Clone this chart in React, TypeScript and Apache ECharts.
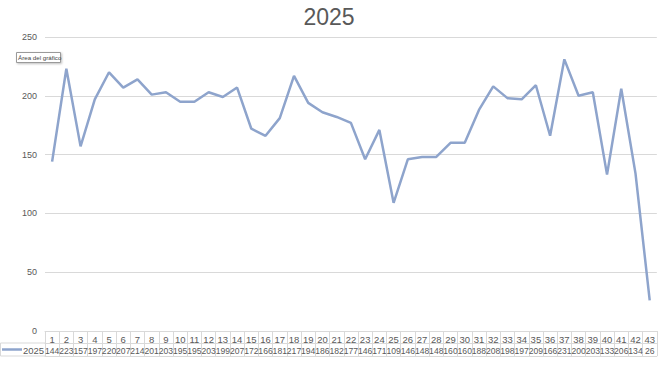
import React, { useEffect, useRef } from "react";
import * as echarts from "echarts";

const categories: string[] = Array.from({ length: 43 }, (_, i) => String(i + 1));
const values2025: number[] = [
  144, 223, 157, 197, 220, 207, 214, 201, 203, 195, 195, 203, 199, 207, 172, 166, 181, 217, 194, 186,
  182, 177, 146, 171, 109, 146, 148, 148, 160, 160, 188, 208, 198, 197, 209, 166, 231, 200, 203, 133,
  206, 134, 26,
];
const seriesName = "2025";
const chartTitle = "2025";
const yTicks = { min: 0, max: 250, interval: 50 };

const LINE_COLOR = "#8EA4CC";
const BORDER = "#d9d9d9";
const TEXT = "#595959";
const FONT = "Liberation Sans, Arial, sans-serif";

export default function App() {
  const ref = useRef<HTMLDivElement>(null);
  useEffect(() => {
    if (!ref.current) return;
    const chart = echarts.init(ref.current, undefined, { renderer: "svg" });
    const gridLeft = 45;
    const gridRight = 1;
    const gridTop = 37;
    const gridBottom = 34;
    const H = 365;
    const axisY = H - gridBottom;
    chart.setOption({
      animation: false,
      backgroundColor: "#ffffff",
      title: {
        text: chartTitle,
        left: "center",
        top: 0,
        textStyle: { fontFamily: FONT, fontSize: 23, fontWeight: "normal", color: TEXT },
      },
      grid: { left: gridLeft, right: gridRight, top: gridTop, bottom: gridBottom, containLabel: false },
      xAxis: [
        {
          type: "category",
          data: categories,
          boundaryGap: true,
          position: "bottom",
          axisLine: { show: true, lineStyle: { color: BORDER, width: 1 } },
          axisTick: { show: true, alignWithLabel: false, interval: 0, length: 25, lineStyle: { color: BORDER } },
          axisLabel: { interval: 0, margin: 3, fontFamily: FONT, fontSize: 9.5, color: TEXT },
        },
        {
          type: "category",
          data: categories,
          boundaryGap: true,
          position: "bottom",
          offset: 12,
          axisLine: { show: true, lineStyle: { color: BORDER, width: 1 } },
          axisTick: { show: false },
          axisLabel: {
            interval: 0,
            margin: 3,
            fontFamily: FONT,
            fontSize: 8.6,
            color: TEXT,
            formatter: (_v: string, i: number) => String(values2025[i]),
          },
        },
        {
          type: "category",
          data: categories,
          boundaryGap: true,
          position: "bottom",
          offset: 25,
          axisLine: { show: true, lineStyle: { color: BORDER, width: 1 } },
          axisTick: { show: false },
          axisLabel: { show: false },
        },
      ],
      yAxis: {
        type: "value",
        min: yTicks.min,
        max: yTicks.max,
        interval: yTicks.interval,
        axisLine: { show: false },
        axisTick: { show: false },
        axisLabel: { margin: 8, fontFamily: FONT, fontSize: 9, color: TEXT },
        splitLine: { lineStyle: { color: BORDER, width: 1 } },
      },
      series: [
        {
          name: seriesName,
          type: "line",
          xAxisIndex: 0,
          data: values2025,
          symbol: "none",
          lineStyle: { color: LINE_COLOR, width: 2.5 },
          itemStyle: { color: LINE_COLOR },
        },
      ],
      graphic: [
        { type: "line", shape: { x1: 0.5, y1: axisY + 12, x2: gridLeft, y2: axisY + 12 }, style: { stroke: BORDER, lineWidth: 1 } },
        { type: "line", shape: { x1: 0.5, y1: axisY + 25, x2: gridLeft, y2: axisY + 25 }, style: { stroke: BORDER, lineWidth: 1 } },
        { type: "line", shape: { x1: 0.5, y1: axisY + 12, x2: 0.5, y2: axisY + 25 }, style: { stroke: BORDER, lineWidth: 1 } },
        { type: "line", shape: { x1: gridLeft + 0.5, y1: axisY, x2: gridLeft + 0.5, y2: axisY + 25 }, style: { stroke: BORDER, lineWidth: 1 } },
        { type: "line", shape: { x1: 2, y1: axisY + 18.5, x2: 22, y2: axisY + 18.5 }, style: { stroke: LINE_COLOR, lineWidth: 2.5 } },
        {
          type: "text",
          x: 23,
          y: axisY + 14,
          style: { text: seriesName, fontFamily: FONT, fontSize: 9.5, fill: TEXT },
        },
        {
          type: "rect",
          shape: { x: 16.5, y: 52.5, width: 44, height: 10 },
          style: { fill: "#ffffff", stroke: "#9a9a9a", lineWidth: 1, shadowColor: "rgba(0,0,0,0.25)", shadowBlur: 2, shadowOffsetX: 1, shadowOffsetY: 1 },
        },
        {
          type: "text",
          x: 18,
          y: 54,
          style: { text: "Área del gráfico", fontFamily: FONT, fontSize: 6.2, fill: "#444444" },
        },
      ],
    });
    return () => chart.dispose();
  }, []);
  return (
    <div
      ref={ref}
      style={{ position: "fixed", left: 0, top: 0, width: 658, height: 365, background: "#fff" }}
    />
  );
}
